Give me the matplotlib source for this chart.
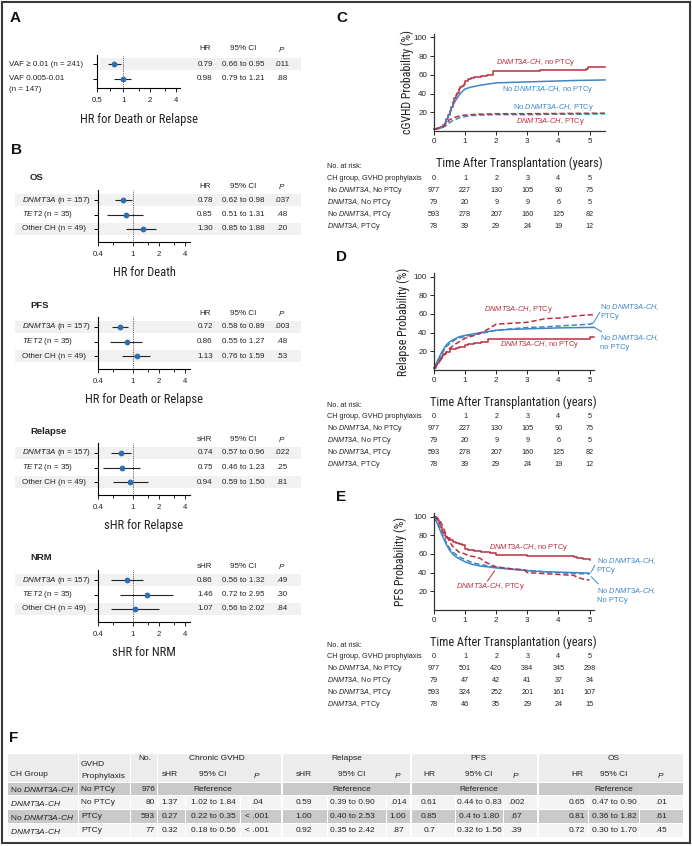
import numpy as np
import matplotlib
matplotlib.use('Agg')
import matplotlib.pyplot as plt
from matplotlib import font_manager as fm
from matplotlib.patches import Rectangle
from matplotlib.ticker import FixedLocator, NullFormatter
from matplotlib.transforms import blended_transform_factory


def pick_font(names):
    for name in names:
        try:
            fm.findfont(fm.FontProperties(family=name), fallback_to_default=False)
            return name
        except ValueError:
            pass
    return 'DejaVu Sans'


BASE = pick_font(['Liberation Sans', 'Roboto', 'DejaVu Sans'])
NARROW = pick_font(['Liberation Sans Narrow', 'Roboto Condensed', 'Open Sans Condensed', BASE])

plt.rcParams['font.family'] = [BASE, 'DejaVu Sans']
plt.rcParams['mathtext.fontset'] = 'custom'
plt.rcParams['mathtext.rm'] = BASE
plt.rcParams['mathtext.it'] = BASE + ':italic'
plt.rcParams['mathtext.bf'] = BASE + ':bold'


def it(s):
    return '$\\mathit{' + s + '}$'


DN = it('DNMT3A')
DNCH = it('DNMT3A') + '-' + it('CH')

# ---------------- data: panel A ----------------
a_labels = ['VAF \u2265 0.01 (n = 241)', 'VAF 0.005-0.01\n(n = 147)']
a_hr = [0.79, 0.98]
a_lo = [0.66, 0.79]
a_hi = [0.95, 1.21]
a_p = ['.011', '.88']

# ---------------- data: panel B ----------------
b_labels = [DN + ' (n = 157)', it('TET2') + ' (n = 35)', 'Other CH (n = 49)']
os_hr = [0.78, 0.85, 1.30]
os_lo = [0.62, 0.51, 0.85]
os_hi = [0.98, 1.31, 1.88]
os_p = ['.037', '.48', '.20']
pfs_hr = [0.72, 0.86, 1.13]
pfs_lo = [0.58, 0.55, 0.76]
pfs_hi = [0.89, 1.27, 1.59]
pfs_p = ['.003', '.48', '.53']
rel_hr = [0.74, 0.75, 0.94]
rel_lo = [0.57, 0.46, 0.59]
rel_hi = [0.96, 1.23, 1.50]
rel_p = ['.022', '.25', '.81']
nrm_hr = [0.86, 1.46, 1.07]
nrm_lo = [0.56, 0.72, 0.56]
nrm_hi = [1.32, 2.95, 2.02]
nrm_p = ['.49', '.30', '.84']

# ---------------- data: panel C (cGVHD) ----------------
c_red_t = [0, 0.1, 0.2, 0.3, 0.35, 0.4, 0.45, 0.5, 0.55, 0.6, 0.65, 0.7, 0.75, 0.8, 0.85, 0.9,
           0.95, 1.0, 1.05, 1.1, 1.2, 1.3, 1.5, 1.7, 1.85, 1.9, 2.5, 3.4, 4.9, 4.95, 5.5]
c_red_v = [2, 3, 4, 6, 9, 13, 17, 21, 26, 31, 35, 38, 41, 45, 47, 48,
           50, 53, 54, 56, 57, 58, 59, 59.5, 60, 64, 64, 65.5, 66, 68, 68]
c_blue_t = [0, 0.2, 0.3, 0.4, 0.5, 0.6, 0.7, 0.8, 0.9, 1.0, 1.2, 1.5, 2.0, 2.5, 3.0, 3.5, 4.0, 4.5, 5.0, 5.5]
c_blue_v = [2, 3, 5, 11, 19, 27, 33, 38, 42, 45, 47, 49, 51.5, 52, 52.5, 53, 53.5, 54, 54.3, 54.6]
c_redd_t = [0, 0.2, 0.3, 0.4, 0.5, 0.6, 0.7, 0.8, 1.0, 1.2, 1.5, 2.0, 3.0, 4.0, 5.0, 5.5]
c_redd_v = [2, 3, 5, 8, 12, 13.5, 15, 16, 17, 17.5, 18, 18.5, 18.5, 18.7, 19, 19]
c_blued_t = [0, 0.2, 0.3, 0.4, 0.5, 0.6, 0.8, 1.0, 1.2, 1.5, 2.0, 3.0, 4.0, 5.0, 5.5]
c_blued_v = [2, 3, 4, 6, 9, 11, 14, 15.5, 16.5, 17, 17.5, 17.5, 18, 18, 18.5]

# ---------------- data: panel D (relapse) ----------------
d_red_t = [0, 0.05, 0.1, 0.15, 0.2, 0.25, 0.3, 0.4, 0.5, 0.7, 0.8, 1.0, 1.1, 1.3, 1.5, 1.75, 2.0, 3.0, 4.0, 5.0, 5.13]
d_red_v = [2, 5, 8, 11, 13, 15, 17, 19, 22, 23, 25, 27, 28, 29, 30, 33, 33, 33, 33, 35, 35]
d_blue_t = [0, 0.1, 0.2, 0.3, 0.4, 0.5, 0.6, 0.8, 1.0, 1.25, 1.5, 2.0, 2.5, 3.0, 4.0, 5.0, 5.13]
d_blue_v = [2, 9, 16, 22, 27, 30, 32, 35.5, 37, 38.5, 40, 42.5, 43.5, 44, 45, 45.5, 45.5]
d_redd_t = [0, 0.1, 0.2, 0.3, 0.4, 0.5, 0.7, 0.9, 1.0, 1.2, 1.4, 1.6, 1.8, 2.0, 2.5, 3.0, 3.3, 3.6,
            4.0, 4.6, 5.0, 5.13]
d_redd_v = [2, 6, 10, 15, 19, 23, 28, 32, 34, 36, 38, 41, 45, 49, 50, 51, 53, 55, 55.5, 58, 59, 59]
d_blued_t = [0, 0.1, 0.2, 0.3, 0.4, 0.5, 0.7, 1.0, 1.5, 2.0, 2.5, 3.0, 3.5, 4.0, 4.5, 5.0, 5.1, 5.13]
d_blued_v = [2, 8, 14, 20, 25, 28, 33, 36, 39, 42.5, 44, 45.5, 46, 47, 48, 49, 50, 51]

# ---------------- data: panel E (PFS) ----------------
e_red_t = [0, 0.05, 0.1, 0.15, 0.2, 0.25, 0.3, 0.35, 0.4, 0.5, 0.6, 0.7, 0.8, 0.9, 1.0, 1.1, 1.3,
           1.5, 1.8, 2.0, 3.0, 4.0, 4.5, 4.6, 4.8, 5.0]
e_red_v = [100, 98, 96, 93, 89, 85, 82, 79, 77, 75, 73, 72, 71, 69, 65, 64, 63,
           62, 61, 59, 58, 57.5, 57, 55.5, 55, 54]
e_blue_t = [0, 0.1, 0.2, 0.3, 0.4, 0.5, 0.6, 0.7, 0.8, 1.0, 1.2, 1.5, 2.0, 2.5, 3.0, 3.5, 4.0, 4.5, 5.0]
e_blue_v = [100, 93, 85, 77, 70, 64, 60, 57, 55, 51.5, 49, 47, 45, 43.5, 42, 41, 40.5, 40, 39.5]
e_blued_t = [0, 0.1, 0.2, 0.3, 0.4, 0.5, 0.6, 0.8, 1.0, 1.2, 1.5, 2.0, 2.5, 3.0, 3.5, 4.0, 4.5, 5.0]
e_blued_v = [100, 94, 87, 79, 72, 66, 62, 57, 54, 51, 48.5, 46, 44, 42.5, 41, 40, 39, 38.5]
e_redd_t = [0, 0.1, 0.2, 0.3, 0.4, 0.5, 0.6, 0.7, 0.8, 1.0, 1.1, 1.3, 1.5, 1.6, 1.8, 2.0, 2.5,
            2.9, 3.0, 3.5, 4.0, 4.5, 4.6, 4.8, 5.0]
e_redd_v = [100, 99, 95, 88, 80, 73, 68, 65, 62, 60, 58, 57, 55, 52, 49, 46, 44,
            43, 40, 39, 38, 37, 35, 33, 32]

# ---------------- data: risk tables ----------------
risk_times = [0, 1, 2, 3, 4, 5]
risk_labels = ['No ' + DN + ', No PTCy', DN + ', No PTCy', 'No ' + DN + ', PTCy', DN + ', PTCy']
c_risk = [[977, 227, 130, 105, 90, 75], [79, 20, 9, 9, 6, 5],
          [593, 278, 207, 160, 125, 82], [78, 39, 29, 24, 19, 12]]
d_risk = [[977, 227, 130, 105, 90, 75], [79, 20, 9, 9, 6, 5],
          [593, 278, 207, 160, 125, 82], [78, 39, 29, 24, 19, 12]]
e_risk = [[977, 501, 420, 384, 345, 298], [79, 47, 42, 41, 37, 34],
          [593, 324, 252, 201, 161, 107], [78, 46, 35, 29, 24, 15]]

# ---------------- data: panel F table ----------------
f_group = ['No ' + DNCH, DNCH, 'No ' + DNCH, DNCH]
f_proph = ['No PTCy', 'No PTCy', 'PTCy', 'PTCy']
f_n = ['976', '80', '593', '77']
cg_shr = ['1.37', '0.27', '0.32']
cg_ci = ['1.02 to 1.84', '0.22 to 0.35', '0.18 to 0.56']
cg_p = ['.04', '< .001', '< .001']
fr_shr = ['0.59', '1.00', '0.92']
fr_ci = ['0.39 to 0.90', '0.40 to 2.53', '0.35 to 2.42']
fr_p = ['.014', '1.00', '.87']
fp_hr = ['0.61', '0.85', '0.7']
fp_ci = ['0.44 to 0.83', '0.4 to 1.80', '0.32 to 1.56']
fp_p = ['.002', '.67', '.39']
fo_hr = ['0.65', '0.81', '0.72']
fo_ci = ['0.47 to 0.90', '0.36 to 1.82', '0.30 to 1.70']
fo_p = ['.01', '.61', '.45']

RED = '#b8303f'
BLUE = '#3c86c6'
DOT = '#2f6fb0'
TXT = '#222222'
DASH = (0, (3.5, 1.8))

W, H = 692, 846
fig = plt.figure(figsize=(W / 100, H / 100), dpi=100)
cv = fig.add_axes([0, 0, 1, 1])
cv.set_xlim(0, W)
cv.set_ylim(H, 0)
cv.axis('off')
cv.add_patch(Rectangle((2, 2), W - 4.5, H - 4.5, fill=False, ec='#3a3a3a', lw=1.5))


def px_axes(x0, x1, top, bottom):
    return fig.add_axes([x0 / W, 1 - bottom / H, (x1 - x0) / W, (bottom - top) / H], facecolor='none')


def letter(x, y, s):
    cv.text(x, y, s, fontsize=11, fontweight='bold', ha='left', va='center', color='#111111')


def forest(row0, step, top, axis_y, ax_x, xlim, xticks, minor, labels, est, lo, hi, pvals,
           stat, xlabel, xlabel_y, shade_x, label_x, header_y, title=None):
    n = len(est)
    rows = [row0 + i * step for i in range(n)]
    ax = px_axes(ax_x[0], ax_x[1], top, axis_y)
    ax.set_xscale('log')
    ax.set_xlim(*xlim)
    ax.set_ylim((axis_y - row0) / step, (top - row0) / step)
    idx = np.arange(n)
    est = np.array(est)
    ax.errorbar(est, idx, xerr=[est - np.array(lo), np.array(hi) - est], fmt='o', color=DOT,
                ecolor='#222222', elinewidth=0.8, capsize=1.8, capthick=0.8, markersize=4.2,
                markeredgewidth=0, zorder=3, clip_on=False)
    ax.axvline(1, color='#333333', lw=0.6, ls=(0, (1, 1.2)), zorder=1)
    for s in ['top', 'right']:
        ax.spines[s].set_visible(False)
    for s in ['left', 'bottom']:
        ax.spines[s].set_linewidth(0.8)
    ax.set_yticks(idx)
    ax.set_yticklabels([])
    ax.tick_params(axis='y', length=3, width=0.7)
    ax.set_xticks(xticks)
    ax.set_xticklabels(['%g' % t for t in xticks])
    ax.xaxis.set_minor_locator(FixedLocator(minor))
    ax.xaxis.set_minor_formatter(NullFormatter())
    ax.tick_params(axis='x', which='major', length=3, width=0.7, labelsize=5.6, pad=3.5, colors=TXT)
    ax.tick_params(axis='x', which='minor', length=2, width=0.6)
    ax.set_xlabel(xlabel, fontsize=9, family=NARROW, color=TXT)
    ax.xaxis.label.set_va('center')
    ax.xaxis.set_label_coords((ax_x[0] + ax_x[1]) / 2, xlabel_y, transform=cv.transData)
    # header and table columns
    cv.text(205, header_y, stat, fontsize=5.8, ha='center', va='center', color=TXT)
    cv.text(243, header_y, '95% CI', fontsize=5.8, ha='center', va='center', color=TXT)
    cv.text(282, header_y, it('P'), fontsize=5.8, ha='center', va='center', color=TXT)
    for i, ry in enumerate(rows):
        if i % 2 == 0:
            cv.add_patch(Rectangle((shade_x[0], ry - 6), shade_x[1] - shade_x[0], 12,
                                   fc='#f1f1f1', ec='none', zorder=0))
        lines = labels[i].split('\n')
        for k, line in enumerate(lines):
            cv.text(label_x, ry + k * 10.5, line, fontsize=5.8, ha='left', va='center', color=TXT)
        cv.text(205, ry, '%.2f' % est[i], fontsize=5.8, ha='center', va='center', color=TXT)
        cv.text(243, ry, '%.2f to %.2f' % (lo[i], hi[i]), fontsize=5.8, ha='center', va='center', color=TXT)
        cv.text(282, ry, pvals[i], fontsize=5.8, ha='center', va='center', color=TXT)
    if title:
        cv.text(30, row0 - 22, title, fontsize=6.8, fontweight='bold', ha='left', va='center', color=TXT)
    return ax


# ---------------- panel A ----------------
letter(10, 18, 'A')
forest(64, 15, 55, 88, (97, 180), (0.5, 4.44), [0.5, 1, 2, 4], [0.7, 1.5, 3], a_labels,
       a_hr, a_lo, a_hi, a_p, 'HR', 'HR for Death or Relapse', 119, (100, 301), 9, 49)

# ---------------- panel B ----------------
letter(11, 150, 'B')
b_blocks = [
    (200, os_hr, os_lo, os_hi, os_p, 'HR', 'HR for Death', 'OS'),
    (327, pfs_hr, pfs_lo, pfs_hi, pfs_p, 'HR', 'HR for Death or Relapse', 'PFS'),
    (453, rel_hr, rel_lo, rel_hi, rel_p, 'sHR', 'sHR for Relapse', 'Relapse'),
    (580, nrm_hr, nrm_lo, nrm_hi, nrm_p, 'sHR', 'sHR for NRM', 'NRM'),
]
for row0, e, l, h, p, stat, xl, title in b_blocks:
    forest(row0, 14.5, row0 - 10, row0 + 42, (98, 190), (0.4, 4.57), [0.4, 1, 2, 4],
           [0.6, 1.5, 3], b_labels, e, l, h, p, stat, xl, row0 + 73, (15, 301), 22,
           row0 - 13.5, title)

# ---------------- KM panels ----------------
X0 = 434
YR = 31.1
PCT = 0.935
YMAX = 104


def km(zero_y, xmax, series, ylabel, ylabel_x, notes, leaders, risk):
    x1 = X0 + xmax * YR
    top = zero_y - YMAX * PCT
    ax = px_axes(X0, x1, top, zero_y)
    ax.set_xlim(0, xmax)
    ax.set_ylim(0, YMAX)
    for t, v, color, ls, is_step in series:
        if is_step:
            ax.step(t, v, where='post', color=color, ls=ls, lw=1.1, clip_on=False)
        else:
            ax.plot(t, v, color=color, ls=ls, lw=1.1, clip_on=False)
    for s in ['top', 'right']:
        ax.spines[s].set_visible(False)
    for s in ['left', 'bottom']:
        ax.spines[s].set_linewidth(0.9)
        ax.spines[s].set_color('#333333')
    ax.set_xticks(risk_times)
    ax.set_yticks([20, 40, 60, 80, 100])
    ax.tick_params(length=3, width=0.7, labelsize=5.8, pad=2, colors=TXT)
    ax.set_xlabel('Time After Transplantation (years)', fontsize=8.8, family=NARROW, color=TXT)
    ax.xaxis.label.set_va('center')
    ax.xaxis.set_label_coords((X0 + x1) / 2, zero_y + 32, transform=cv.transData)
    ax.set_ylabel(ylabel, fontsize=8.6, family=NARROW, color=TXT)
    ax.yaxis.label.set_va('center')
    ax.yaxis.set_label_coords(ylabel_x, (top + zero_y) / 2, transform=cv.transData)
    for tx, ty, s, color, ha in notes:
        ax.text(tx, ty, s, fontsize=5.4, color=color, ha=ha, va='center', linespacing=1.2, clip_on=False)
    for (xa, ya, xb, yb) in leaders:
        ax.plot([xa, xb], [ya, yb], color=BLUE, lw=0.7, clip_on=False)
    # risk table
    tr = blended_transform_factory(ax.transData, cv.transData)
    ty0 = zero_y + 35.5
    cv.text(327, ty0, 'No. at risk:', fontsize=5.2, ha='left', va='center', color=TXT)
    cv.text(327, ty0 + 11.5, 'CH group, GVHD prophylaxis', fontsize=5.2, ha='left', va='center', color=TXT)
    for t in risk_times:
        ax.text(t, ty0 + 11.5, str(t), transform=tr, fontsize=5.2, ha='center', va='center', color=TXT)
    for i, lab in enumerate(risk_labels):
        ry = ty0 + 23.5 + 12 * i
        cv.text(327, ry, lab, fontsize=5.2, ha='left', va='center', color=TXT)
        for t, nval in zip(risk_times, risk[i]):
            ax.text(t, ry, str(nval), transform=tr, fontsize=5.2, ha='center', va='center', color=TXT)
    return ax


letter(336, 18, 'C')
km(131, 5.5,
   [(c_red_t, c_red_v, RED, '-', True), (c_blue_t, c_blue_v, BLUE, '-', False),
    (c_blued_t, c_blued_v, BLUE, DASH, False), (c_redd_t, c_redd_v, RED, DASH, False)],
   'cGVHD Probability (%)', 407,
   [(3.27, 73.4, DNCH + ', no PTCy', RED, 'center'),
    (3.65, 44.7, 'No ' + DNCH + ', no PTCy', BLUE, 'center'),
    (3.85, 25.5, 'No ' + DNCH + ', PTCy', BLUE, 'center'),
    (3.75, 10.6, DNCH + ', PTCy', RED, 'center')],
   [], c_risk)

letter(336, 257, 'D')
km(370, 5.13,
   [(d_red_t, d_red_v, RED, '-', True), (d_blue_t, d_blue_v, BLUE, '-', False),
    (d_blued_t, d_blued_v, BLUE, DASH, False), (d_redd_t, d_redd_v, RED, DASH, False)],
   'Relapse Probability (%)', 403,
   [(2.71, 64.5, DNCH + ', PTCy', RED, 'center'),
    (3.39, 26.9, DNCH + ', no PTCy', RED, 'center'),
    (5.35, 63.4, 'No ' + DNCH + ',\nPTCy', BLUE, 'left'),
    (5.35, 30.0, 'No ' + DNCH + ',\nno PTCy', BLUE, 'left')],
   [(5.13, 50.5, 5.33, 61.6), (5.13, 46, 5.39, 41)], d_risk)

letter(336, 497, 'E')
ax_e = km(610, 5.13,
          [(e_red_t, e_red_v, RED, '-', True), (e_blue_t, e_blue_v, BLUE, '-', False),
           (e_blued_t, e_blued_v, BLUE, DASH, False), (e_redd_t, e_redd_v, RED, DASH, False)],
          'PFS Probability (%)', 400,
          [(3.06, 66.7, DNCH + ', no PTCy', RED, 'center'),
           (1.81, 24.7, DNCH + ', PTCy', RED, 'center'),
           (5.23, 48.4, 'No ' + DNCH + ',\nPTCy', BLUE, 'left'),
           (5.23, 16.1, 'No ' + DNCH + ',\nNo PTCy', BLUE, 'left')],
          [(5.06, 40.9, 5.17, 47.6), (5.06, 35.5, 5.28, 28)], e_risk)
ax_e.plot([1.72, 1.95], [31, 42], color=RED, lw=0.7, clip_on=False)

# ---------------- panel F ----------------
letter(9, 738, 'F')
f_groups = [(8, 78), (79, 130), (131, 157), (158, 281), (283, 410), (412, 537), (539, 683)]
f_cells = [(158, 185), (186, 240), (241, 281), (283, 327), (328, 386), (387, 410),
           (412, 455), (456, 503), (504, 537), (539, 588), (589, 639), (640, 683)]
f_xc = [170, 213, 257, 304, 352, 398, 429, 479, 516, 577, 614, 661]
f_rows = [(783, 795.5), (796.5, 809.5), (810.5, 823.5), (824.5, 837.5)]
GRAY = '#c9c9c9'
LIGHT = '#f4f4f4'
FS = 6.0

for gx0, gx1 in f_groups:
    cv.add_patch(Rectangle((gx0, 754), gx1 - gx0, 28, fc='#ececec', ec='none', zorder=0))
for r, (ry0, ry1) in enumerate(f_rows):
    fc = GRAY if r % 2 == 0 else LIGHT
    for gx0, gx1 in f_groups[:3]:
        cv.add_patch(Rectangle((gx0, ry0), gx1 - gx0, ry1 - ry0, fc=fc, ec='none', zorder=0))
    spans = f_groups[3:] if r == 0 else f_cells
    for gx0, gx1 in spans:
        cv.add_patch(Rectangle((gx0, ry0), gx1 - gx0, ry1 - ry0, fc=fc, ec='none', zorder=0))

cv.text(145, 758, 'No.', fontsize=FS, ha='center', va='center', color=TXT)
for name, xc in [('Chronic GVHD', 217), ('Relapse', 347), ('PFS', 478), ('OS', 614)]:
    cv.text(xc, 758, name, fontsize=FS, ha='center', va='center', color=TXT)
cv.text(10, 775, 'CH Group', fontsize=FS, ha='left', va='center', color=TXT)
cv.text(81, 765, 'GVHD', fontsize=FS, ha='left', va='center', color=TXT)
cv.text(81, 776, 'Prophylaxis', fontsize=FS, ha='left', va='center', color=TXT)
sub = ['sHR', '95% CI', it('P'), 'sHR', '95% CI', it('P'), 'HR', '95% CI', it('P'), 'HR', '95% CI', it('P')]
for s, xc in zip(sub, f_xc):
    cv.text(xc, 775, s, fontsize=FS, ha='center', va='center', color=TXT)

f_cols = [cg_shr, cg_ci, cg_p, fr_shr, fr_ci, fr_p, fp_hr, fp_ci, fp_p, fo_hr, fo_ci, fo_p]
for r, (ry0, ry1) in enumerate(f_rows):
    yc = (ry0 + ry1) / 2
    cv.text(10, yc, f_group[r], fontsize=FS, ha='left', va='center', color=TXT)
    cv.text(81, yc, f_proph[r], fontsize=FS, ha='left', va='center', color=TXT)
    cv.text(155, yc, f_n[r], fontsize=FS, ha='right', va='center', color=TXT)
    if r == 0:
        for xc in [213, 352, 479, 614]:
            cv.text(xc, yc, 'Reference', fontsize=FS, ha='center', va='center', color=TXT)
    else:
        for col, xc in zip(f_cols, f_xc):
            cv.text(xc, yc, col[r - 1], fontsize=FS, ha='center', va='center', color=TXT)

fig.savefig('out.png', dpi=100)
